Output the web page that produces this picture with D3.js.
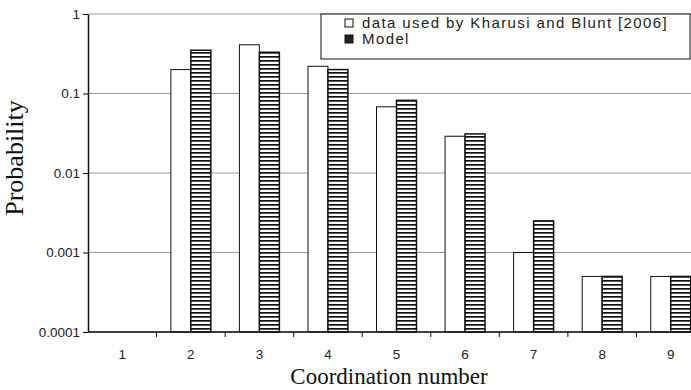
<!DOCTYPE html>
<html>
<head>
<meta charset="utf-8">
<script src="https://cdn.jsdelivr.net/npm/d3@7"></script>
<style>
  body { margin: 0; background: #fff; }
  .tick text { font-family: "Liberation Sans", Arial, sans-serif; font-size: 13.5px; fill: #222; }
  .axis-title { font-family: "Liberation Serif", "Times New Roman", serif; font-size: 23px; fill: #111; }
</style>
</head>
<body>
<svg id="chart"></svg>
<script>
// data
const categories = ["1", "2", "3", "4", "5", "6", "7", "8", "9"];
const kharusiValues = [null, 0.2, 0.41, 0.22, 0.068, 0.029, 0.001, 0.0005, 0.0005];
const modelValues = [null, 0.35, 0.33, 0.2, 0.082, 0.031, 0.0025, 0.0005, 0.0005];
const seriesNames = ["data used by Kharusi and Blunt [2006]", "Model"];
const yTicks = [1, 0.1, 0.01, 0.001, 0.0001];
const yTickLabels = ["1", "0.1", "0.01", "0.001", "0.0001"];

const width = 691, height = 390;
const margin = { top: 14, left: 88, bottom: 58 };
const plotRight = 705; // plot runs past the right edge, as in the reference

const svg = d3.select("#chart").attr("width", width).attr("height", height);

// striped fill for the model bars
const defs = svg.append("defs");
const pat = defs.append("pattern")
  .attr("id", "stripes")
  .attr("patternUnits", "userSpaceOnUse")
  .attr("width", 8).attr("height", 4);
pat.append("rect").attr("width", 8).attr("height", 4).attr("fill", "#fff");
pat.append("rect").attr("y", 0).attr("width", 8).attr("height", 1.7).attr("fill", "#111");

const x0 = d3.scaleBand()
  .domain(categories)
  .range([margin.left, plotRight])
  .paddingInner(0.417)
  .paddingOuter(0.2085);

const x1 = d3.scaleBand()
  .domain([0, 1])
  .range([0, x0.bandwidth()]);

const y = d3.scaleLog()
  .domain([0.0001, 1])
  .range([height - margin.bottom, margin.top]);

// gridlines
svg.append("g")
  .selectAll("line")
  .data(yTicks)
  .join("line")
  .attr("x1", margin.left).attr("x2", plotRight)
  .attr("y1", d => y(d)).attr("y2", d => y(d))
  .attr("stroke", "#9a9a9a").attr("stroke-width", 1);

// bars
const rows = categories.map((c, i) => ({ cat: c, vals: [kharusiValues[i], modelValues[i]] }));
const groups = svg.append("g")
  .selectAll("g")
  .data(rows)
  .join("g")
  .attr("transform", d => `translate(${x0(d.cat)},0)`);

groups.selectAll("rect")
  .data(d => d.vals.map((v, k) => ({ v, k })).filter(e => e.v != null))
  .join("rect")
  .attr("x", d => x1(d.k))
  .attr("width", x1.bandwidth())
  .attr("y", d => y(d.v))
  .attr("height", d => y(0.0001) - y(d.v))
  .attr("fill", d => d.k === 0 ? "#fff" : "url(#stripes)")
  .attr("stroke", "#111")
  .attr("stroke-width", d => d.k === 0 ? 1 : 1.5);

// axes
const yAxis = d3.axisLeft(y)
  .tickValues(yTicks)
  .tickFormat((d, i) => yTickLabels[i])
  .tickSizeInner(5).tickSizeOuter(0).tickPadding(3);
svg.append("g")
  .attr("transform", `translate(${margin.left},0)`)
  .call(yAxis)
  .call(g => g.select(".domain").attr("stroke", "#111").attr("stroke-width", 1.5));

const xAxisG = svg.append("g")
  .attr("transform", `translate(0,${height - margin.bottom})`);
xAxisG.append("line")
  .attr("x1", margin.left).attr("x2", plotRight)
  .attr("stroke", "#111").attr("stroke-width", 1.5);
// ticks at category boundaries
const step = x0.step();
xAxisG.selectAll(".bt")
  .data(categories.slice(1))
  .join("line")
  .attr("x1", d => x0(d) - x0.paddingInner() * step / 2)
  .attr("x2", d => x0(d) - x0.paddingInner() * step / 2)
  .attr("y1", 0).attr("y2", 5)
  .attr("stroke", "#111");
xAxisG.selectAll(".tick")
  .data(categories)
  .join("text")
  .attr("class", "tick")
  .attr("x", d => x0(d) + x0.bandwidth() / 2)
  .attr("y", 27)
  .attr("text-anchor", "middle")
  .style("font-family", "'Liberation Sans', Arial, sans-serif")
  .style("font-size", "13.5px")
  .attr("fill", "#222")
  .text(d => d);

// axis titles
svg.append("text")
  .attr("class", "axis-title")
  .attr("transform", `translate(23,158) rotate(-90)`)
  .attr("text-anchor", "middle")
  .style("font-size", "26px")
  .text("Probability");

svg.append("text")
  .attr("class", "axis-title")
  .attr("x", 389).attr("y", 384)
  .attr("text-anchor", "middle")
  .text("Coordination number");

// legend
const legend = svg.append("g").attr("transform", "translate(321,14)");
legend.append("rect")
  .attr("width", 369).attr("height", 45)
  .attr("fill", "#fff").attr("stroke", "#111").attr("stroke-width", 1);
const items = legend.selectAll(".item")
  .data(seriesNames)
  .join("g")
  .attr("transform", (d, i) => `translate(24,${2 + i * 16})`);
items.append("rect")
  .attr("width", 8).attr("height", 8)
  .attr("y", 3)
  .attr("fill", (d, i) => i === 0 ? "#fff" : "#222")
  .attr("stroke", "#111");
items.append("text")
  .attr("x", 17).attr("y", 12)
  .style("font-family", "'Liberation Sans', Arial, sans-serif")
  .style("font-size", "15px")
  .style("letter-spacing", "1.4px")
  .attr("fill", "#222")
  .text(d => d);
</script>
</body>
</html>
